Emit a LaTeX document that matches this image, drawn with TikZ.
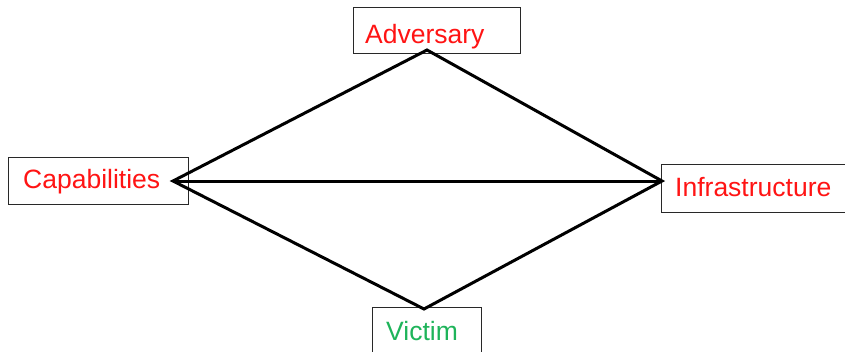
\documentclass[tikz,border=0pt]{standalone}
\usepackage{fontspec}
\setmainfont{Liberation Sans}
\definecolor{labelred}{RGB}{255,20,20}
\definecolor{labelgreen}{RGB}{30,180,90}
\definecolor{boxline}{RGB}{40,40,40}
\begin{document}
\begin{tikzpicture}[x=1pt,y=-1pt,
  box/.style={draw=boxline, line width=1.4pt, fill=white, inner sep=0pt, anchor=north west},
  lbl/.style={anchor=base west, inner sep=0pt, font=\fontsize{26.5}{30}\selectfont},
  edge/.style={line width=3pt, line join=miter, draw=black}]
\useasboundingbox (0,0) rectangle (845,351);

% boxes
\node[box, minimum width=167pt, minimum height=46pt] (advBox) at (353,7) {};
\node[box, minimum width=180pt, minimum height=47pt] (capBox) at (8,157) {};
\node[box, minimum width=190pt, minimum height=48pt] (infBox) at (661,164) {};
\node[box, minimum width=109pt, minimum height=60pt] (vicBox) at (372,307) {};

% labels
\node[lbl, text=labelred]   (advText) at (365,43.5) {Adversary};
\node[lbl, text=labelred]   (capText) at (23,188)   {Capabilities};
\node[lbl, text=labelred]   (infText) at (675,196)  {Infrastructure};
\node[lbl, text=labelgreen] (vicText) at (386,340)  {Victim};

% corners of the diamond
\coordinate (advTip) at (427,50);
\coordinate (capTip) at (173,181);
\coordinate (infTip) at (662,181);
\coordinate (vicTip) at (424,309);

% diamond edges and the cross link
\draw[edge] (advTip) -- (infTip) -- (vicTip) -- (capTip) -- cycle;
\draw[edge] (capTip) -- (infTip);
\end{tikzpicture}
\end{document}
